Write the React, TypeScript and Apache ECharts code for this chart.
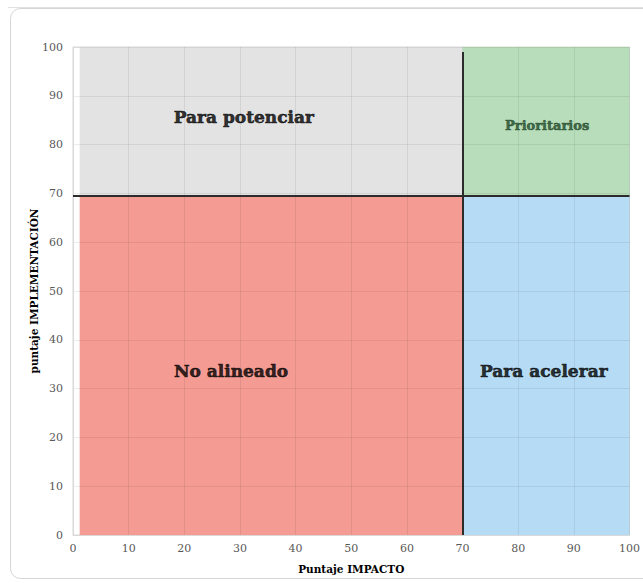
import React, { useEffect, useRef } from "react";
import * as echarts from "echarts";

// Quadrant boundaries (data units)
const xMin = 0;
const xMax = 100;
const yMin = 0;
const yMax = 100;
const areaStartX = 1.2;
const areaEndX = 100;
const xSplit = 70;
const ySplit = 69.5;
const vLineTop = 99;

const quadrantNames = ["Para potenciar", "Prioritarios", "No alineado", "Para acelerar"];
const quadrantColors = ["#e3e3e3", "#b8ddba", "#f49b94", "#b6dcf5"];
const labelX = [30.7, 85.2, 28.4, 84.6];
const labelY = [85.7, 84, 33.6, 33.6];
const labelColors = ["#000000", "#1f4a2a", "#000000", "#000000"];
const labelSizes = [17, 13, 17, 17];

const xTitle = "Puntaje IMPACTO";
const yTitle = "puntaje IMPLEMENTACIÓN";

const SERIF = "'DejaVu Serif', 'Liberation Serif', serif";

export default function App() {
  const ref = useRef<HTMLDivElement>(null);

  useEffect(() => {
    if (!ref.current) return;
    const chart = echarts.init(ref.current, undefined, { renderer: "svg" });

    const areas = [
      [areaStartX, ySplit, xSplit, yMax],
      [xSplit, ySplit, areaEndX, yMax],
      [areaStartX, yMin, xSplit, ySplit],
      [xSplit, yMin, areaEndX, ySplit],
    ].map((b, i) => [
      { xAxis: b[0], yAxis: b[1], itemStyle: { color: quadrantColors[i] } },
      { xAxis: b[2], yAxis: b[3] },
    ]);

    const labelData = quadrantNames.map((n, i) => ({
      value: [labelX[i], labelY[i]],
      name: n,
      label: {
        show: true,
        position: "inside",
        formatter: n,
        color: labelColors[i],
        fontSize: labelSizes[i],
        fontWeight: "bold",
        fontFamily: SERIF,
        textBorderColor: labelColors[i],
        textBorderWidth: 0.6,
      },
    }));

    chart.setOption({
      animation: false,
      backgroundColor: "#ffffff",
      graphic: [
        {
          type: "line",
          shape: { x1: 8, y1: 7.5, x2: 643, y2: 7.5 },
          style: { stroke: "#e2e2e2", lineWidth: 1 },
          silent: true,
        },
        {
          type: "rect",
          shape: { x: 10.5, y: 8.5, width: 700, height: 570, r: 10 },
          style: { fill: "none", stroke: "#d4d4d4", lineWidth: 1 },
          silent: true,
        },
      ],
      grid: {
        left: 73,
        top: 47,
        width: 560,
        height: 488,
        show: true,
        borderColor: "#d9d9d9",
        borderWidth: 1,
        backgroundColor: "transparent",
      },
      xAxis: {
        type: "value",
        min: xMin,
        max: xMax,
        interval: 10,
        z: 3,
        name: xTitle,
        nameLocation: "middle",
        nameGap: 28,
        nameMoveOverlap: false,
        nameTextStyle: { fontFamily: SERIF, fontWeight: "bold", fontSize: 10.5, color: "#000" },
        axisLine: { show: true, lineStyle: { color: "#d9d9d9" } },
        axisTick: { show: false },
        axisLabel: { fontFamily: SERIF, fontSize: 11, color: "#595959", margin: 8 },
        splitLine: { show: true, lineStyle: { color: "rgba(0,0,0,0.07)", width: 1 } },
      },
      yAxis: {
        type: "value",
        min: yMin,
        max: yMax,
        interval: 10,
        z: 3,
        name: yTitle,
        nameLocation: "middle",
        nameGap: 34,
        nameMoveOverlap: false,
        nameRotate: 90,
        nameTextStyle: { fontFamily: SERIF, fontWeight: "bold", fontSize: 10.5, color: "#000" },
        axisLine: { show: true, lineStyle: { color: "#d9d9d9" } },
        axisTick: { show: false },
        axisLabel: { fontFamily: SERIF, fontSize: 11, color: "#595959", margin: 10 },
        splitLine: { show: true, lineStyle: { color: "rgba(0,0,0,0.07)", width: 1 } },
      },
      series: [
        {
          type: "scatter",
          symbolSize: 0,
          z: 5,
          clip: false,
          data: labelData,
          markArea: {
            silent: true,
            z: 1,
            data: areas,
          },
          markLine: {
            silent: true,
            symbol: "none",
            z: 4,
            label: { show: false },
            lineStyle: { color: "#2b2b2b", width: 2, type: "solid" },
            data: [
              [{ coord: [xSplit, yMin] }, { coord: [xSplit, vLineTop] }],
              [{ coord: [xMin, ySplit] }, { coord: [xMax, ySplit] }],
            ],
          },
        },
      ],
    });

    return () => chart.dispose();
  }, []);

  return (
    <div
      ref={ref}
      style={{ position: "fixed", left: 0, top: 0, width: 643, height: 583 }}
    />
  );
}
